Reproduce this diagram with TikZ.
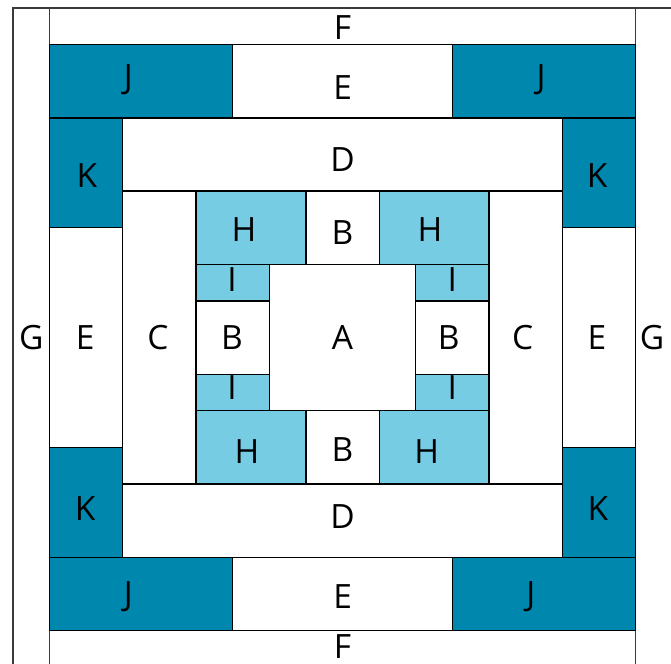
\documentclass[tikz,border=0pt]{standalone}
\usepackage{fontspec}
\setmainfont{Open Sans}
\usepackage{xcolor}
\usepackage{tikz}
\usetikzlibrary{positioning}
\definecolor{quiltdark}{HTML}{0087AD}
\definecolor{quiltlight}{HTML}{75CCE3}
\definecolor{quiltedge}{HTML}{3A3A3A}

\begin{document}
\begin{tikzpicture}[x=0.5cm,y=0.5cm,
    patch/.style={draw=black, line width=0.5pt, fill=white},
    outerpatch/.style={draw=quiltedge, line width=0.55pt, fill=white},
    darkpatch/.style={patch, fill=quiltdark},
    lightpatch/.style={patch, fill=quiltlight},
    lbl/.style={font=\fontsize{13}{15}\selectfont, inner sep=0pt}]
            \useasboundingbox (-0.355,0.09) rectangle (17.97,18.22);
            % outer strips
            \draw[outerpatch] (0,0) rectangle (1,18);
            \draw[outerpatch] (17,0) rectangle (18,18);
            \draw[outerpatch] (1,17) rectangle (17,18);
            \draw[outerpatch] (1,0) rectangle (17,1);
            % J and E rows
            \draw[darkpatch] (1,15) rectangle (6,17);
            \draw[patch] (6,15) rectangle (12,17);
            \draw[darkpatch] (12,15) rectangle (17,17);
            \draw[darkpatch] (1,1) rectangle (6,3);
            \draw[patch] (6,1) rectangle (12,3);
            \draw[darkpatch] (12,1) rectangle (17,3);
            % K and E columns
            \draw[darkpatch] (1,12) rectangle (3,15);
            \draw[patch] (1,6) rectangle (3,12);
            \draw[darkpatch] (1,3) rectangle (3,6);
            \draw[darkpatch] (15,12) rectangle (17,15);
            \draw[patch] (15,6) rectangle (17,12);
            \draw[darkpatch] (15,3) rectangle (17,6);
            % D and C
            \draw[patch] (3,13) rectangle (15,15);
            \draw[patch] (3,3) rectangle (15,5);
            \draw[patch] (3,5) rectangle (5,13);
            \draw[patch] (13,5) rectangle (15,13);
            % H and B rows
            \draw[lightpatch] (5,11) rectangle (8,13);
            \draw[patch] (8,11) rectangle (10,13);
            \draw[lightpatch] (10,11) rectangle (13,13);
            \draw[lightpatch] (5,5) rectangle (8,7);
            \draw[patch] (8,5) rectangle (10,7);
            \draw[lightpatch] (10,5) rectangle (13,7);
            % I and B columns
            \draw[lightpatch] (5,10) rectangle (7,11);
            \draw[patch] (5,8) rectangle (7,10);
            \draw[lightpatch] (5,7) rectangle (7,8);
            \draw[lightpatch] (11,10) rectangle (13,11);
            \draw[patch] (11,8) rectangle (13,10);
            \draw[lightpatch] (11,7) rectangle (13,8);
            % centre
            \draw[patch] (7,7) rectangle (11,11);
            % labels
            \node[lbl] (gl) at (0.5,9) {G};
            \node[lbl] (gr) at (17.45,9) {G};
            \node[lbl] (ft) at (9,17.46) {F};
            \node[lbl] (fb) at (9,0.56) {F};
            \node[lbl] (jtl) at (3.15,16.04) {J};
            \node[lbl] (et) at (9,15.82) {E};
            \node[lbl] (jtr) at (14.42,16.04) {J};
            \node[lbl] (jbl) at (3.15,1.92) {J};
            \node[lbl] (eb) at (9,1.92) {E};
            \node[lbl] (jbr) at (14.14,1.92) {J};
            \node[lbl] (ktl) at (2.02,13.42) {K};
            \node[lbl] (ktr) at (15.95,13.42) {K};
            \node[lbl] (kbl) at (1.97,4.32) {K};
            \node[lbl] (kbr) at (15.97,4.32) {K};
            \node[lbl] (el) at (1.97,9) {E};
            \node[lbl] (er) at (15.95,9) {E};
            \node[lbl] (dt) at (9,13.85) {D};
            \node[lbl] (db) at (9,4.1) {D};
            \node[lbl] (cl) at (3.96,9) {C};
            \node[lbl] (cr) at (13.92,9) {C};
            \node[lbl] (htl) at (6.31,11.94) {H};
            \node[lbl] (bt) at (9,11.86) {B};
            \node[lbl] (htr) at (11.39,11.94) {H};
            \node[lbl] (hbl) at (6.39,5.88) {H};
            \node[lbl] (bb) at (9,5.93) {B};
            \node[lbl] (hbr) at (11.3,5.88) {H};
            \node[lbl] (itl) at (5.98,10.58) {I};
            \node[lbl] (itr) at (12,10.58) {I};
            \node[lbl] (ibl) at (5.98,7.63) {I};
            \node[lbl] (ibr) at (12,7.63) {I};
            \node[lbl] (bl) at (5.98,9) {B};
            \node[lbl] (a) at (9,9) {A};
            \node[lbl] (br) at (11.9,9) {B};
        \end{tikzpicture}
\end{document}
